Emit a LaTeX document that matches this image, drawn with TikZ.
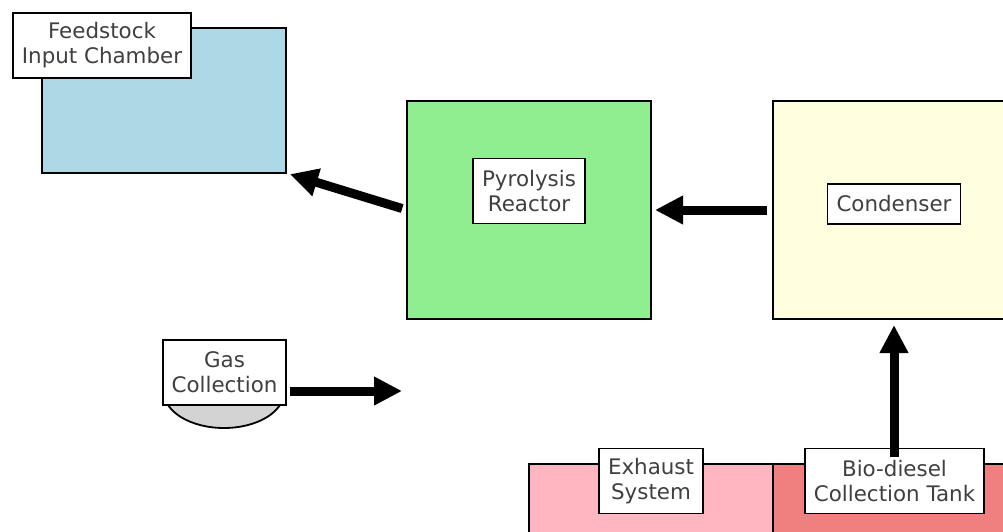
\documentclass[tikz,border=0pt]{standalone}
\usepackage{fontspec}
\setmainfont{DejaVu Sans}
\usetikzlibrary{arrows.meta}
\definecolor{txt}{HTML}{404040}
\definecolor{feedblue}{HTML}{ADD8E6}
\definecolor{reactgreen}{HTML}{90EE90}
\definecolor{condyellow}{HTML}{FFFFE0}
\definecolor{exhpink}{HTML}{FFB6C1}
\definecolor{biored}{HTML}{F08080}
\definecolor{gasgray}{HTML}{D3D3D3}
\begin{document}
\begin{tikzpicture}[x=1pt,y=1pt,
  unit/.style={draw=black,line width=1.8pt},
  lbl/.style={draw=black,fill=white,line width=1.9pt,text=txt,align=center,
    font=\fontsize{21.4}{25}\selectfont,inner xsep=9pt,inner ysep=0pt,minimum height=#1},
  lbl/.default=65pt,
  arr/.style={line width=9pt,-{Triangle[width=27pt,length=28pt]}}]
\useasboundingbox (0,0) rectangle (1003,-531);
% equipment
\draw[unit,fill=feedblue] (42,-28) rectangle (286,-173);
\coordinate (feedcorner) at (286,-173);
\draw[unit,fill=reactgreen] (407,-101) rectangle (651,-319);
\coordinate (reactW) at (407,-210);
\coordinate (reactE) at (651,-210);
\draw[unit,fill=condyellow] (773,-101) rectangle (1010,-319);
\coordinate (condW) at (773,-210);
\coordinate (condS) at (894,-319);
\draw[unit,fill=gasgray] (224,-392) ellipse [x radius=60, y radius=36];
\draw[unit,fill=exhpink] (529,-464) rectangle (773,-540);
\draw[unit,fill=biored] (773,-464) rectangle (1010,-540);
% labels
\node[lbl] (feed) at (102,-45.5) {Feedstock\\Input Chamber};
\node[lbl] (react) at (529,-191) {Pyrolysis\\Reactor};
\node[lbl=40pt] (cond) at (894,-204) {Condenser};
\node[lbl] (gas) at (224.5,-372.5) {Gas\\Collection};
\node[lbl] (exh) at (651,-481) {Exhaust\\System};
\node[lbl] (bio) at (894.5,-481) {Bio-diesel\\Collection Tank};
\coordinate (gasout) at (290,-391);
\coordinate (gasend) at (402,-391);
\coordinate (biotop) at (894,-457);
% flows
\draw[arr,shorten <=5pt,shorten >=4pt] (reactW) -- (feedcorner);
\draw[arr,shorten <=6pt,shorten >=4pt] (condW) -- (reactE);
\draw[arr] (gasout) -- (gasend);
\draw[arr,shorten >=6pt] (biotop) -- (condS);
\end{tikzpicture}
\end{document}
